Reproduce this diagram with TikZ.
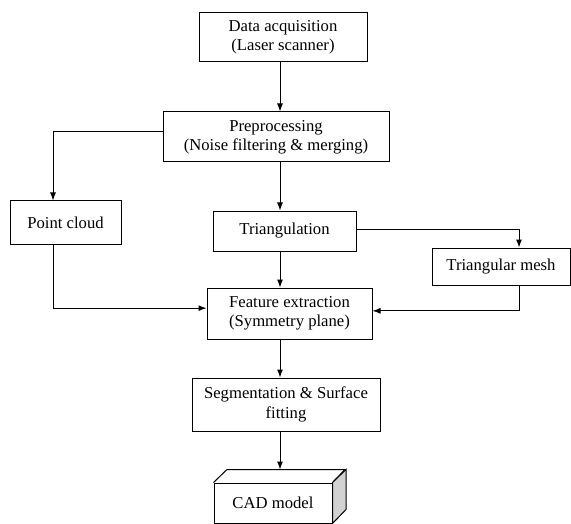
\documentclass[tikz,border=0pt]{standalone}
\usepackage{fontspec}
\setmainfont{Liberation Serif}
\usetikzlibrary{arrows.meta}

\begin{document}
\begin{tikzpicture}[x=0.75pt, y=-0.75pt, >={Latex[length=6pt,width=4.5pt]}, line width=0.75pt,
  box/.style={draw, rectangle, align=center, inner sep=2pt, font=\fontsize{12.5}{14.5}\selectfont}]
  \useasboundingbox (0,0) rectangle (571,524);
  \clip (0,0) rectangle (571,524);

  % Columns for the connectors
  \coordinate (spine) at (280,0);
  \coordinate (leftcol) at (53,0);
  \coordinate (rightcol) at (519,0);

  % Main chain
  \node[box, minimum width=126pt, minimum height=36.75pt] (acq) at (283,37.5) {Data acquisition\\(Laser scanner)};
  \node[box, minimum width=169.5pt, minimum height=37.5pt] (prep) at (276,137) {Preprocessing\\(Noise filtering \& merging)};
  \node[box, minimum width=107.25pt, minimum height=30pt] (tri) at (284.5,231) {Triangulation};
  \node[box, minimum width=123.75pt, minimum height=38.25pt] (feat) at (289.5,313.5) {Feature extraction\\(Symmetry plane)};
  \node[box, minimum width=141pt, minimum height=39.75pt] (seg) at (286,404.5) {Segmentation \& Surface\\fitting};

  % Side branches
  \node[box, minimum width=83.25pt, minimum height=32.25pt] (pcloud) at (65.5,222.5) {Point cloud};
  \node[box, minimum width=103.5pt, minimum height=27.75pt] (mesh) at (501,266.5) {Triangular mesh};

  % CAD model block
  \node[box, minimum width=88.5pt, minimum height=30pt] (cad) at (273,503) {CAD model};
  \draw (cad.north west) -- ++(13.5,-13) -- ++(118,0) -- (cad.north east);
  \filldraw[fill=gray!35] (cad.north east) -- ++(13.5,-13) -- ++(0,40) -- (cad.south east) -- cycle;
  \coordinate (cadtop) at ([yshift=9.75pt]cad.north);

  % Connectors
  \draw[->] (acq.south -| spine) -- (prep.north -| spine);
  \draw[->] (prep.south -| spine) -- (tri.north -| spine);
  \draw[->] (tri.south -| spine) -- (feat.north -| spine);
  \draw[->] (feat.south -| spine) -- (seg.north -| spine);
  \draw[->] (seg.south -| spine) -- (cadtop -| spine);
  \draw[->] ([yshift=4pt]prep.west) -| (pcloud.north -| leftcol);
  \draw[->] (pcloud.south -| leftcol) |- ([yshift=4pt]feat.west);
  \draw[->] ([yshift=1.5pt]tri.east) -| (mesh.north -| rightcol);
  \draw[->] (mesh.south -| rightcol) |- ([yshift=2pt]feat.east);
\end{tikzpicture}
\end{document}
